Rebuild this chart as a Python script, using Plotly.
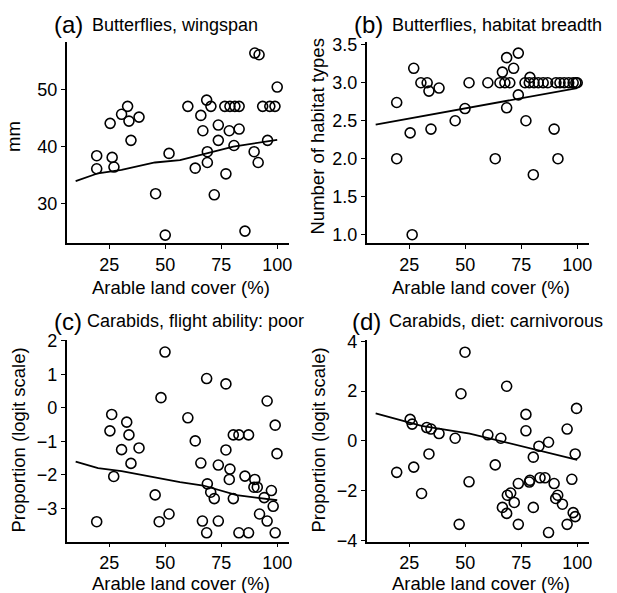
import plotly.graph_objects as go

# ---------------- data ----------------
a_x = [19.4, 19.4, 25.4, 26.3, 27.1, 30.5, 33.2, 33.8, 38.3, 34.7, 51.7, 45.7, 50.0, 60.1, 68.5, 70.4,
       65.9, 76.6, 78.9, 81.1, 83.0, 93.5, 96.7, 99.0, 90.0, 91.9, 100.0, 66.8, 73.7, 78.6, 83.0, 73.7,
       80.7, 95.7, 68.8, 89.7, 68.8, 91.5, 63.4, 77.1, 71.9, 85.6]
a_y = [38.4, 36.1, 44.1, 38.1, 36.4, 45.7, 47.1, 44.5, 45.2, 41.1, 38.8, 31.7, 24.4, 47.1, 48.2, 47.1,
       45.5, 47.1, 47.1, 47.1, 47.1, 47.1, 47.1, 47.1, 56.5, 56.2, 50.5, 42.8, 43.8, 42.8, 43.1, 41.1,
       40.2, 41.1, 39.1, 39.1, 37.2, 37.2, 36.2, 35.2, 31.5, 25.1]

b_x = [19.4, 19.4, 27.0, 25.4, 26.3, 30.2, 33.0, 33.8, 38.3, 34.7, 45.5, 49.9, 51.7, 60.1, 68.5, 73.7,
       66.6, 71.6, 65.5, 67.7, 69.9, 73.7, 68.5, 77.1, 89.7, 63.4, 91.4, 80.4, 78.9, 76.7, 78.6, 80.7,
       82.6, 84.8, 86.8, 90.5, 92.3, 94.2, 96.2, 98.2, 99.4, 100.0]
b_y = [2.74, 2.0, 3.19, 2.34, 1.0, 3.0, 3.0, 2.89, 2.93, 2.39, 2.50, 2.66, 3.0, 3.0, 3.33, 3.39,
       3.14, 3.19, 3.0, 3.0, 3.0, 2.84, 2.67, 2.50, 2.39, 2.0, 2.0, 1.79, 3.07, 3.0, 3.0, 3.0,
       3.0, 3.0, 3.0, 3.0, 3.0, 3.0, 3.0, 3.0, 3.0, 3.0]

c_x = [19.4, 26.1, 25.3, 27.0, 32.8, 33.8, 30.5, 38.3, 34.7, 49.9, 48.1, 45.5, 47.3, 51.7, 68.5, 77.1,
       95.5, 60.1, 99.1, 80.4, 82.9, 87.2, 63.4, 77.1, 99.9, 65.9, 73.7, 78.9, 78.6, 68.8, 85.6, 90.0,
       89.6, 91.1, 97.4, 70.3, 71.9, 80.4, 94.2, 98.2, 92.1, 95.5, 66.6, 73.7, 68.5, 82.9, 87.2, 99.1]
c_y = [-3.40, -0.20, -0.69, -2.05, -0.43, -0.81, -1.25, -1.20, -1.66, 1.66, 0.30, -2.60, -3.40, -3.17,
       0.87, 0.71, 0.20, -0.30, -0.52, -0.81, -0.81, -0.81, -0.99, -1.26, -1.37, -1.65, -1.71, -1.83,
       -2.14, -2.27, -2.04, -2.14, -2.37, -2.37, -2.47, -2.52, -2.71, -2.71, -2.68, -2.94, -3.17, -3.38,
       -3.38, -3.38, -3.73, -3.73, -3.73, -3.73]

d_x = [19.4, 25.4, 26.3, 27.0, 30.5, 32.8, 34.7, 33.8, 38.3, 45.5, 49.9, 48.1, 47.3, 51.7, 68.5, 77.1,
       99.7, 77.1, 95.5, 60.1, 65.9, 87.2, 82.9, 99.1, 80.4, 63.4, 73.7, 78.9, 78.6, 83.4, 85.6, 89.7,
       97.6, 68.8, 70.3, 71.9, 91.3, 90.4, 93.4, 66.6, 68.5, 80.4, 98.2, 99.1, 95.5, 73.7, 87.2]
d_y = [-1.27, 0.86, 0.67, -1.06, -2.12, 0.53, 0.47, -0.53, 0.29, 0.10, 3.56, 1.89, -3.36, -1.65,
       2.19, 1.06, 1.30, 0.40, 0.47, 0.24, 0.10, -0.06, -0.22, -0.53, -0.66, -0.97, -1.72, -1.59,
       -1.66, -1.49, -1.49, -1.72, -1.55, -2.19, -2.10, -2.48, -2.19, -2.32, -2.55, -2.68, -2.92,
       -2.68, -2.89, -3.05, -3.36, -3.36, -3.69]

# fitted lines
fit_a_x = [10, 20, 30.5, 38, 45.4, 56.6, 68.5, 80.4, 100]
fit_a_y = [33.9, 35.3, 35.9, 36.5, 37.2, 37.6, 38.8, 40.0, 41.2]
fit_b_x = [10, 52, 74.4, 89.3, 100]
fit_b_y = [2.45, 2.67, 2.79, 2.87, 2.93]
fit_c_x = [10, 20, 30.5, 45.4, 56.6, 67, 81.9, 100]
fit_c_y = [-1.61, -1.80, -1.89, -2.09, -2.22, -2.32, -2.61, -2.76]
fit_d_x = [10, 30.5, 52, 74.4, 100]
fit_d_y = [1.10, 0.60, 0.29, -0.20, -0.77]

panel_letters = ["(a)", "(b)", "(c)", "(d)"]
panel_titles = ["Butterflies, wingspan", "Butterflies, habitat breadth",
                "Carabids, flight ability: poor", "Carabids, diet: carnivorous"]
y_titles = ["mm", "Number of habitat types", "Proportion (logit scale)", "Proportion (logit scale)"]
x_title = "Arable land cover (%)"
x_ticks = [25, 50, 75, 100]
y_ticks = [[30, 40, 50], [1.0, 1.5, 2.0, 2.5, 3.0, 3.5], [-3, -2, -1, 0, 1, 2], [-4, -2, 0, 2, 4]]
y_ranges = [[22.95, 58.5], [0.887, 3.54], [-3.99, 2.02], [-4.05, 4.05]]
x_range = [6.0, 105.4]

# ---------------- layout geometry (pixels) ----------------
W, H = 617, 593
px_x = [(66.7, 289.3), (366.7, 589.3), (66.7, 289.3), (366.7, 589.3)]
px_y = [(41.7, 243.3), (41.7, 243.3), (340.0, 541.5), (340.0, 541.5)]

FONT = "Liberation Sans, Arial, Helvetica, sans-serif"
TICK_SIZE = 18

fig = go.Figure()
points = [(a_x, a_y), (b_x, b_y), (c_x, c_y), (d_x, d_y)]
fits = [(fit_a_x, fit_a_y), (fit_b_x, fit_b_y), (fit_c_x, fit_c_y), (fit_d_x, fit_d_y)]

for i in range(4):
    xa = "x" if i == 0 else f"x{i+1}"
    ya = "y" if i == 0 else f"y{i+1}"
    fig.add_trace(go.Scatter(x=fits[i][0], y=fits[i][1], mode="lines",
                             line=dict(color="black", width=1.8), xaxis=xa, yaxis=ya,
                             showlegend=False, hoverinfo="skip"))
    fig.add_trace(go.Scatter(x=points[i][0], y=points[i][1], mode="markers",
                             marker=dict(symbol="circle-open", size=10, color="black",
                                         line=dict(width=1.6)),
                             xaxis=xa, yaxis=ya, showlegend=False))

layout = dict(width=W, height=H, margin=dict(l=0, r=0, t=0, b=0, autoexpand=False),
              paper_bgcolor="white", plot_bgcolor="white",
              font=dict(family=FONT, color="black"), annotations=[])

for i in range(4):
    xk = "xaxis" if i == 0 else f"xaxis{i+1}"
    yk = "yaxis" if i == 0 else f"yaxis{i+1}"
    x0, x1 = px_x[i]
    y0, y1 = px_y[i]
    layout[xk] = dict(domain=[x0 / W, x1 / W], range=x_range, anchor="y" if i == 0 else f"y{i+1}",
                      showgrid=False, zeroline=False, showline=True, linecolor="black", linewidth=1.6,
                      ticks="outside", ticklen=4, tickwidth=1.4, tickcolor="black", automargin=False,
                      tickvals=x_ticks, tickfont=dict(size=TICK_SIZE, family=FONT, color="black"))
    layout[yk] = dict(domain=[1 - y1 / H, 1 - y0 / H], range=y_ranges[i],
                      anchor="x" if i == 0 else f"x{i+1}", automargin=False,
                      showgrid=False, zeroline=False, showline=True, linecolor="black", linewidth=1.6,
                      ticks="outside", ticklen=4, tickwidth=1.4, tickcolor="black",
                      tickvals=y_ticks[i], tickfont=dict(size=TICK_SIZE, family=FONT, color="black"))
    if i == 1:
        layout[yk]["tickformat"] = ".1f"

# text positions (pixels)
letter_x = [51.7, 351.7, 51.7, 350.0]
title_x = [90.0, 390.0, 85.0, 387.0]
title_cy = [24.5, 24.5, 321.0, 321.0]
xt_cy = [287.5, 287.5, 583.0, 583.0]
yt_cx = [14.0, 317.5, 17.5, 317.5]
yt_cy = [137.0, 137.0, 440.0, 440.0]

ann = []
for i in range(4):
    ann.append(dict(text=panel_letters[i], x=letter_x[i] / W, y=1 - title_cy[i] / H, xref="paper",
                    yref="paper", xanchor="left", yanchor="middle", showarrow=False,
                    font=dict(size=24, family=FONT, color="black")))
    ann.append(dict(text=panel_titles[i], x=title_x[i] / W, y=1 - title_cy[i] / H, xref="paper",
                    yref="paper", xanchor="left", yanchor="middle", showarrow=False,
                    font=dict(size=18, family=FONT, color="black")))
    xc = (px_x[i][0] + px_x[i][1]) / 2 + 3
    ann.append(dict(text=x_title, x=xc / W, y=1 - xt_cy[i] / H, xref="paper", yref="paper",
                    xanchor="center", yanchor="middle", showarrow=False,
                    font=dict(size=18.5, family=FONT, color="black")))
    ann.append(dict(text=y_titles[i], x=yt_cx[i] / W, y=1 - yt_cy[i] / H, xref="paper", yref="paper",
                    xanchor="center", yanchor="middle", showarrow=False, textangle=-90,
                    font=dict(size=18.5, family=FONT, color="black")))
layout["annotations"] = ann

fig.update_layout(**layout)
fig.write_html("out.html", config={"displayModeBar": False},
               post_script="document.body.style.margin='0px';document.body.style.overflow='hidden';")
